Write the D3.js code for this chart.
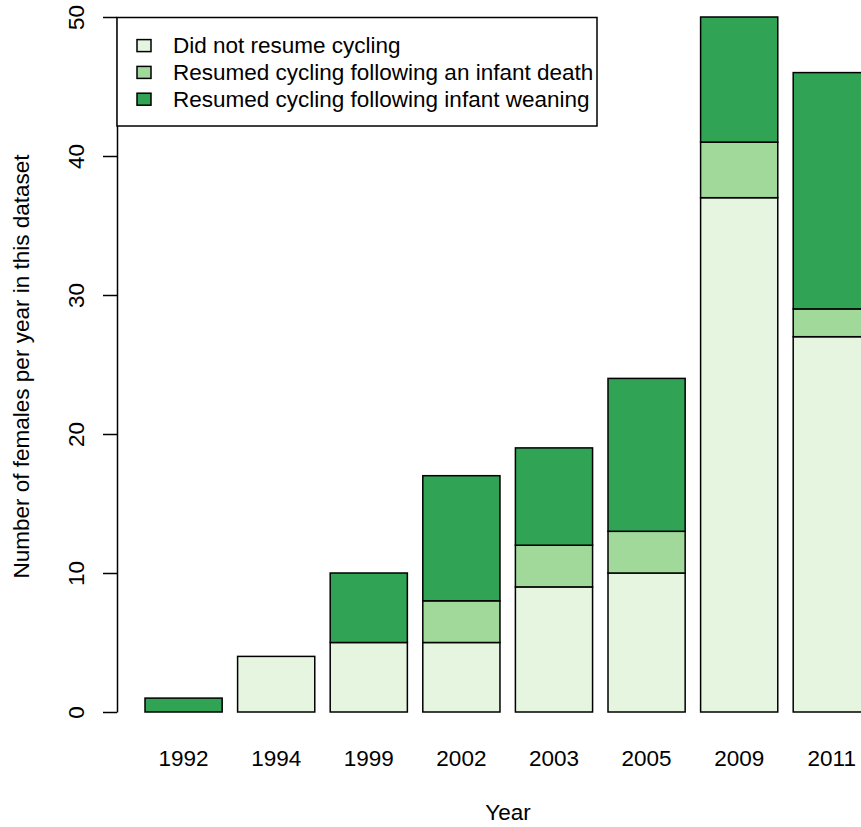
<!DOCTYPE html>
<html>
<head>
<meta charset="utf-8">
<script src="https://cdn.jsdelivr.net/npm/d3@7"></script>
<style>
  html, body { margin: 0; padding: 0; background: #fff; }
  svg { display: block; font-family: "Liberation Sans", Arial, Helvetica, sans-serif; }
</style>
</head>
<body>
<svg id="chart" width="861" height="827"></svg>
<script>
// Years sampled and the number of females in each outcome group
const years = ["1992", "1994", "1999", "2002", "2003", "2005", "2009", "2011"];
const didNotResume   = [0, 4, 5, 5, 9, 10, 37, 27];
const afterDeath     = [0, 0, 0, 3, 3, 3, 4, 2];
const afterWeaning   = [1, 0, 5, 9, 7, 11, 9, 17];

const seriesKeys  = ["notResumed", "death", "weaning"];
const seriesNames = [
  "Did not resume cycling",
  "Resumed cycling following an infant death",
  "Resumed cycling following infant weaning"
];
const seriesColors = ["#E5F5E0", "#A1D99B", "#31A354"];
const yTicks = [0, 10, 20, 30, 40, 50];

const rows = years.map((y, i) => ({
  year: y,
  notResumed: didNotResume[i],
  death: afterDeath[i],
  weaning: afterWeaning[i]
}));

const svg = d3.select("#chart");
const fontSize = 22.5;
const plotLeft = 117, plotTop = 17, plotBottom = 712;
const step = 92.6;

// Bars: width 1, gap 0.2 (in bar units)
const x = d3.scaleBand()
  .domain(years)
  .range([145 - step / 12, 145 - step / 12 + step * years.length])
  .paddingInner(1 / 6)
  .paddingOuter(1 / 12);

const y = d3.scaleLinear().domain([0, 50]).range([plotBottom, plotTop]);

const color = d3.scaleOrdinal().domain(seriesKeys).range(seriesColors);

const stacked = d3.stack().keys(seriesKeys)(rows);

// Stacked bars
svg.append("g")
  .selectAll("g")
  .data(stacked)
  .join("g")
  .attr("fill", d => color(d.key))
  .selectAll("rect")
  .data(d => d)
  .join("rect")
  .attr("x", d => x(d.data.year))
  .attr("width", x.bandwidth())
  .attr("y", d => y(d[1]))
  .attr("height", d => y(d[0]) - y(d[1]))
  .attr("stroke", "#000")
  .attr("stroke-width", 1.5);

// Y axis
const yAxis = d3.axisLeft(y)
  .tickValues(yTicks)
  .tickFormat(d3.format("d"))
  .tickSize(14)
  .tickSizeOuter(0);

const gy = svg.append("g")
  .attr("transform", `translate(${plotLeft},0)`)
  .call(yAxis);
gy.select(".domain").attr("stroke", "#000").attr("stroke-width", 1.5);
gy.selectAll(".tick line").attr("stroke", "#000").attr("stroke-width", 1.5);
gy.selectAll(".tick text")
  .attr("x", null)
  .attr("dy", null)
  .attr("transform", "translate(-33,0) rotate(-90)")
  .attr("text-anchor", "middle")
  .attr("fill", "#000")
  .style("font-size", fontSize + "px")
  .style("font-family", "Liberation Sans, Arial, sans-serif");

// X tick labels (no tick marks)
const xAxis = d3.axisBottom(x).tickSize(0).tickPadding(0);
const gx = svg.append("g")
  .attr("transform", `translate(0,${plotBottom})`)
  .call(xAxis);
gx.select(".domain").remove();
gx.selectAll(".tick text")
  .attr("y", 54)
  .attr("dy", null)
  .attr("fill", "#000")
  .style("font-size", fontSize + "px")
  .style("font-family", "Liberation Sans, Arial, sans-serif");

// Axis titles
svg.append("text")
  .attr("x", 508)
  .attr("y", 820)
  .attr("text-anchor", "middle")
  .style("font-size", fontSize + "px")
  .text("Year");

svg.append("text")
  .attr("transform", `translate(29,${(plotTop + plotBottom) / 2 + 2}) rotate(-90)`)
  .attr("text-anchor", "middle")
  .style("font-size", fontSize + "px")
  .text("Number of females per year in this dataset");

// Legend
const legend = svg.append("g");
legend.append("rect")
  .attr("x", plotLeft)
  .attr("y", 17.5)
  .attr("width", 597 - plotLeft)
  .attr("height", 126 - 17.5)
  .attr("fill", "#fff")
  .attr("stroke", "#000")
  .attr("stroke-width", 1.5);

const rowBaseline = 53.3, rowGap = 26.8;
seriesNames.forEach((name, i) => {
  const base = rowBaseline + i * rowGap;
  legend.append("rect")
    .attr("x", 137)
    .attr("y", base - 7.7 - 6)
    .attr("width", 14)
    .attr("height", 12)
    .attr("fill", seriesColors[i])
    .attr("stroke", "#000")
    .attr("stroke-width", 1.5);
  legend.append("text")
    .attr("x", 173)
    .attr("y", base)
    .style("font-size", fontSize + "px")
    .text(name);
});
</script>
</body>
</html>
